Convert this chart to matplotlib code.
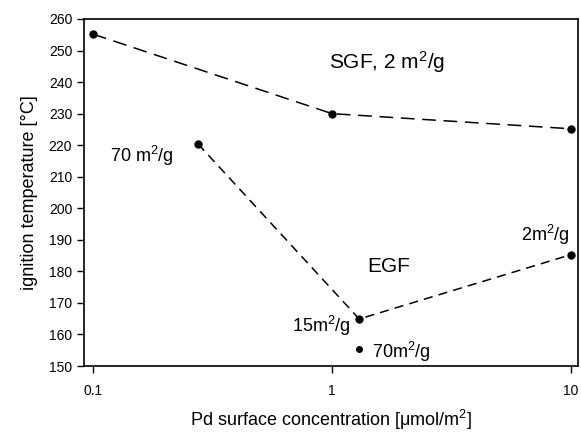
import numpy as np
import matplotlib.pyplot as plt

plt.rcParams['font.family'] = ['Liberation Sans', 'DejaVu Sans']
plt.rcParams['mathtext.fontset'] = 'custom'
plt.rcParams['mathtext.rm'] = 'Liberation Sans'
plt.rcParams['mathtext.default'] = 'regular'

# data
sgf_x = [0.1, 1.0, 10.0]
sgf_y = [255.2, 230.0, 225.2]
egf_x = [0.275, 1.3, 10.0]
egf_y = [220.4, 164.9, 185.3]
extra_x = [1.3]
extra_y = [155.5]

xticks = [0.1, 1, 10]
xticklabels = ['0.1', '1', '10']
yticks = np.arange(150, 261, 10)

fig = plt.figure(figsize=(5.81, 4.32), dpi=100)
ax = fig.add_axes([84 / 581, 1 - 366 / 432, (578 - 84) / 581, (366 - 19) / 432])

ax.plot(sgf_x, sgf_y, color='black', lw=1.1, dashes=(9, 5))
ax.plot(sgf_x, sgf_y, 'o', color='black', ms=5)
ax.plot(egf_x, egf_y, color='black', lw=1.1, dashes=(6, 4))
ax.plot(egf_x, egf_y, 'o', color='black', ms=5)
ax.plot(extra_x, extra_y, 'o', color='black', ms=4)

ax.set_xscale('log')
ax.set_xlim(0.0917, 10.7)
ax.set_ylim(150, 260)
ax.set_xticks(xticks)
ax.set_xticklabels(xticklabels)
ax.xaxis.set_minor_locator(plt.NullLocator())
ax.set_yticks(yticks)
ax.tick_params(axis='both', direction='out', length=5, width=1, labelsize=10)
ax.tick_params(axis='x', pad=8)
for s in ax.spines.values():
    s.set_linewidth(1.2)

ax.set_ylabel('ignition temperature [°C]', fontsize=13, labelpad=8)
ax.set_xlabel('Pd surface concentration [μmol/m$^2$]', fontsize=13, labelpad=7)

ax.text(1.7, 246.4, 'SGF, 2 m$^2$/g', fontsize=15, ha='center', va='center')
ax.text(0.16, 216.5, '70 m$^2$/g', fontsize=13, ha='center', va='center')
ax.text(1.72, 181.4, 'EGF', fontsize=15, ha='center', va='center')
ax.text(1.2, 162.7, '15m$^2$/g', fontsize=13, ha='right', va='center')
ax.text(1.47, 154.4, '70m$^2$/g', fontsize=13, ha='left', va='center')
ax.text(9.9, 191.5, '2m$^2$/g', fontsize=13, ha='right', va='center')

fig.savefig('out.png', dpi=100)
